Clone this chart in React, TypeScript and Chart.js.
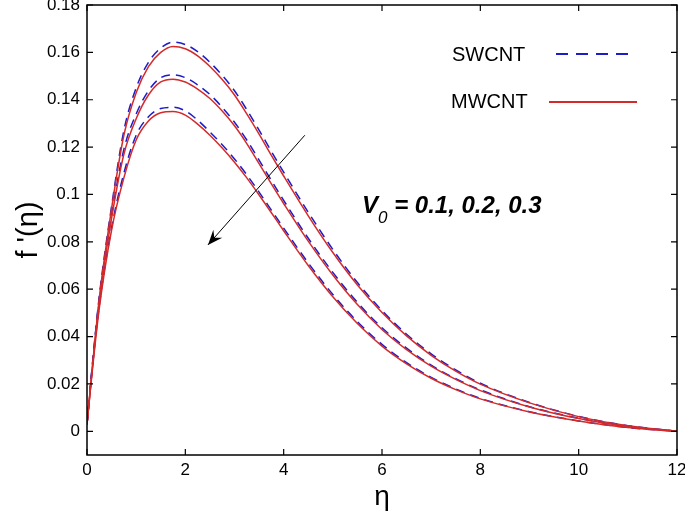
import React, { useEffect, useRef } from "react";
import { Chart, registerables } from "chart.js";

Chart.register(...registerables);

// ---- data ----
const eta = [0, 0.1, 0.25, 0.5, 0.75, 1, 1.25, 1.5, 1.75, 2, 2.25, 2.5, 2.75, 3, 3.25, 3.5, 3.75, 4, 4.5, 5, 5.5, 6, 6.5, 7, 7.5, 8, 9, 10, 11, 12];

const mwV01 = [0.003, 0.025, 0.056, 0.094, 0.125, 0.143, 0.154, 0.16, 0.1625, 0.1615, 0.1585, 0.154, 0.1485, 0.142, 0.134, 0.1255, 0.1165, 0.1078, 0.091, 0.0755, 0.0618, 0.0502, 0.0403, 0.0321, 0.0254, 0.0199, 0.012, 0.0062, 0.0024, 0];
const mwV02 = [0.003, 0.025, 0.055, 0.09, 0.117, 0.132, 0.142, 0.1475, 0.1487, 0.1475, 0.1445, 0.1405, 0.1352, 0.129, 0.1215, 0.113, 0.1045, 0.0962, 0.0803, 0.066, 0.0535, 0.043, 0.0345, 0.0275, 0.0219, 0.0172, 0.0103, 0.0054, 0.002, 0];
const mwV03 = [0.003, 0.024, 0.052, 0.085, 0.107, 0.123, 0.131, 0.1345, 0.135, 0.1335, 0.1297, 0.125, 0.1196, 0.1136, 0.107, 0.0998, 0.0923, 0.0847, 0.07, 0.0568, 0.0455, 0.036, 0.0285, 0.0224, 0.0176, 0.0137, 0.0082, 0.0044, 0.0016, 0];

const swV01 = [0.003, 0.026, 0.057, 0.095, 0.127, 0.145, 0.1558, 0.1618, 0.1643, 0.1633, 0.1603, 0.1558, 0.1503, 0.1438, 0.1358, 0.1272, 0.1182, 0.1094, 0.0925, 0.0768, 0.0628, 0.051, 0.041, 0.0327, 0.0259, 0.0203, 0.0122, 0.0063, 0.0024, 0];
const swV02 = [0.003, 0.026, 0.056, 0.091, 0.119, 0.134, 0.1438, 0.1493, 0.1505, 0.1493, 0.1463, 0.1422, 0.1368, 0.1305, 0.123, 0.1145, 0.1059, 0.0975, 0.0815, 0.0671, 0.0544, 0.0437, 0.0351, 0.0279, 0.0222, 0.0175, 0.0104, 0.0055, 0.002, 0];
const swV03 = [0.003, 0.025, 0.053, 0.086, 0.109, 0.125, 0.1328, 0.1363, 0.1368, 0.1353, 0.1314, 0.1264, 0.121, 0.115, 0.1083, 0.101, 0.0934, 0.0858, 0.0711, 0.0578, 0.0463, 0.0367, 0.029, 0.0228, 0.0179, 0.0139, 0.0083, 0.0044, 0.0016, 0];

const xTickValues = [0, 2, 4, 6, 8, 10, 12];
const xTickLabels = ["0", "2", "4", "6", "8", "10", "12"];
const yTickValues = [0, 0.02, 0.04, 0.06, 0.08, 0.1, 0.12, 0.14, 0.16, 0.18];
const yTickLabels = ["0", "0.02", "0.04", "0.06", "0.08", "0.1", "0.12", "0.14", "0.16", "0.18"];

const legendLabels = ["SWCNT", "MWCNT"];
const annotationMain = "V";
const annotationSub = "0";
const annotationRest = " = 0.1, 0.2, 0.3";
// arrow from (eta, f') to (eta, f')
const arrowFrom = [4.43, 0.125];
const arrowTo = [2.46, 0.0787];

const SW_COLOR = "#1c1cc8";
const MW_COLOR = "#d42a2a";
const FONT = "'Liberation Sans', Arial, sans-serif";

const toPts = (ys: number[]) => ys.map((y, i) => ({ x: eta[i], y }));

const decorPlugin = {
  id: "decor",
  afterDraw(chart: any) {
    const { ctx, chartArea: a, scales } = chart;
    const xs = scales.x;
    const ys = scales.y;
    ctx.save();
    // frame
    ctx.strokeStyle = "#000";
    ctx.lineWidth = 1.5;
    ctx.strokeRect(a.left, a.top, a.right - a.left, a.bottom - a.top);
    // inward ticks
    const tl = 6;
    ctx.lineWidth = 1.2;
    ctx.beginPath();
    xTickValues.forEach((v) => {
      const px = xs.getPixelForValue(v);
      ctx.moveTo(px, a.bottom);
      ctx.lineTo(px, a.bottom - tl);
      ctx.moveTo(px, a.top);
      ctx.lineTo(px, a.top + tl);
    });
    yTickValues.forEach((v) => {
      const py = ys.getPixelForValue(v);
      ctx.moveTo(a.left, py);
      ctx.lineTo(a.left + tl, py);
      ctx.moveTo(a.right, py);
      ctx.lineTo(a.right - tl, py);
    });
    ctx.stroke();

    // legend
    ctx.fillStyle = "#000";
    ctx.font = `20px ${FONT}`;
    ctx.textBaseline = "middle";
    ctx.textAlign = "left";
    ctx.fillText(legendLabels[0], 452, 55);
    ctx.fillText(legendLabels[1], 451, 102);
    ctx.lineWidth = 2;
    ctx.strokeStyle = SW_COLOR;
    ctx.setLineDash([12, 8]);
    ctx.beginPath();
    ctx.moveTo(556, 54);
    ctx.lineTo(634, 54);
    ctx.stroke();
    ctx.setLineDash([]);
    ctx.strokeStyle = MW_COLOR;
    ctx.beginPath();
    ctx.moveTo(549, 102);
    ctx.lineTo(637, 102);
    ctx.stroke();

    // annotation text
    let tx = 362;
    const ty = 206;
    ctx.fillStyle = "#000";
    ctx.font = `italic bold 24px ${FONT}`;
    ctx.fillText(annotationMain, tx, ty);
    tx += ctx.measureText(annotationMain).width;
    ctx.font = `italic 17px ${FONT}`;
    ctx.fillText(annotationSub, tx, ty + 12);
    tx += ctx.measureText(annotationSub).width;
    ctx.font = `italic bold 24px ${FONT}`;
    ctx.fillText(annotationRest, tx, ty);

    // arrow
    const x1 = xs.getPixelForValue(arrowFrom[0]);
    const y1 = ys.getPixelForValue(arrowFrom[1]);
    const x2 = xs.getPixelForValue(arrowTo[0]);
    const y2 = ys.getPixelForValue(arrowTo[1]);
    ctx.strokeStyle = "#000";
    ctx.lineWidth = 1;
    ctx.beginPath();
    ctx.moveTo(x1, y1);
    ctx.lineTo(x2, y2);
    ctx.stroke();
    const ang = Math.atan2(y2 - y1, x2 - x1);
    const hl = 16;
    const hw = 0.38;
    ctx.fillStyle = "#000";
    ctx.beginPath();
    ctx.moveTo(x2, y2);
    ctx.lineTo(x2 - hl * Math.cos(ang - hw), y2 - hl * Math.sin(ang - hw));
    ctx.lineTo(x2 - hl * 0.6 * Math.cos(ang), y2 - hl * 0.6 * Math.sin(ang));
    ctx.lineTo(x2 - hl * Math.cos(ang + hw), y2 - hl * Math.sin(ang + hw));
    ctx.closePath();
    ctx.fill();
    ctx.restore();
  },
};

export default function App() {
  const ref = useRef<HTMLCanvasElement | null>(null);

  useEffect(() => {
    if (!ref.current) return;
    const mk = (label: string, data: number[], color: string, dashed: boolean) => ({
      label,
      data: toPts(data),
      borderColor: color,
      borderWidth: 1.5,
      borderDash: dashed ? [9, 6] : [],
      pointRadius: 0,
      fill: false,
      cubicInterpolationMode: "monotone" as const,
    });
    const chart = new Chart(ref.current, {
      type: "line",
      data: {
        datasets: [
          mk("MWCNT V0=0.1", mwV01, MW_COLOR, false),
          mk("MWCNT V0=0.2", mwV02, MW_COLOR, false),
          mk("MWCNT V0=0.3", mwV03, MW_COLOR, false),
          mk("SWCNT V0=0.1", swV01, SW_COLOR, true),
          mk("SWCNT V0=0.2", swV02, SW_COLOR, true),
          mk("SWCNT V0=0.3", swV03, SW_COLOR, true),
        ],
      },
      options: {
        animation: false,
        responsive: false,
        events: [],
        layout: { padding: { top: 5, right: 8, left: 0, bottom: 0 } },
        plugins: { legend: { display: false }, tooltip: { enabled: false } },
        scales: {
          x: {
            type: "linear",
            min: 0,
            max: 12,
            grid: { display: false, drawTicks: false },
            border: { display: false },
            afterBuildTicks: (s: any) => {
              s.ticks = xTickValues.map((v) => ({ value: v }));
            },
            ticks: {
              color: "#000",
              font: { family: FONT, size: 17 },
              padding: 5,
              maxRotation: 0,
              autoSkip: false,
              callback: (_v: any, i: number) => xTickLabels[i],
            },
            title: {
              display: true,
              text: "η",
              color: "#000",
              font: { family: FONT, size: 28 },
              padding: { top: 0, bottom: 10 },
            },
            afterFit: (s: any) => {
              s.height = 524 - 455;
              s.paddingLeft = 0;
              s.paddingRight = 0;
            },
          },
          y: {
            type: "linear",
            min: -0.01,
            max: 0.18,
            grid: { display: false, drawTicks: false },
            border: { display: false },
            afterBuildTicks: (s: any) => {
              s.ticks = yTickValues.map((v) => ({ value: v }));
            },
            ticks: {
              color: "#000",
              font: { family: FONT, size: 17 },
              padding: 7,
              autoSkip: false,
              callback: (_v: any, i: number) => yTickLabels[i],
            },
            title: {
              display: true,
              text: "f '(η)",
              color: "#000",
              font: { family: FONT, size: 29 },
              padding: { top: 12, bottom: 0 },
            },
            afterFit: (s: any) => {
              s.width = 87;
              s.paddingTop = 0;
              s.paddingBottom = 0;
            },
          },
        },
      },
      plugins: [decorPlugin],
    });
    return () => chart.destroy();
  }, []);

  return (
    <div style={{ position: "fixed", left: 0, top: 0, width: 685, height: 524, background: "#fff" }}>
      <canvas ref={ref} width={685} height={524} style={{ display: "block" }} />
    </div>
  );
}
